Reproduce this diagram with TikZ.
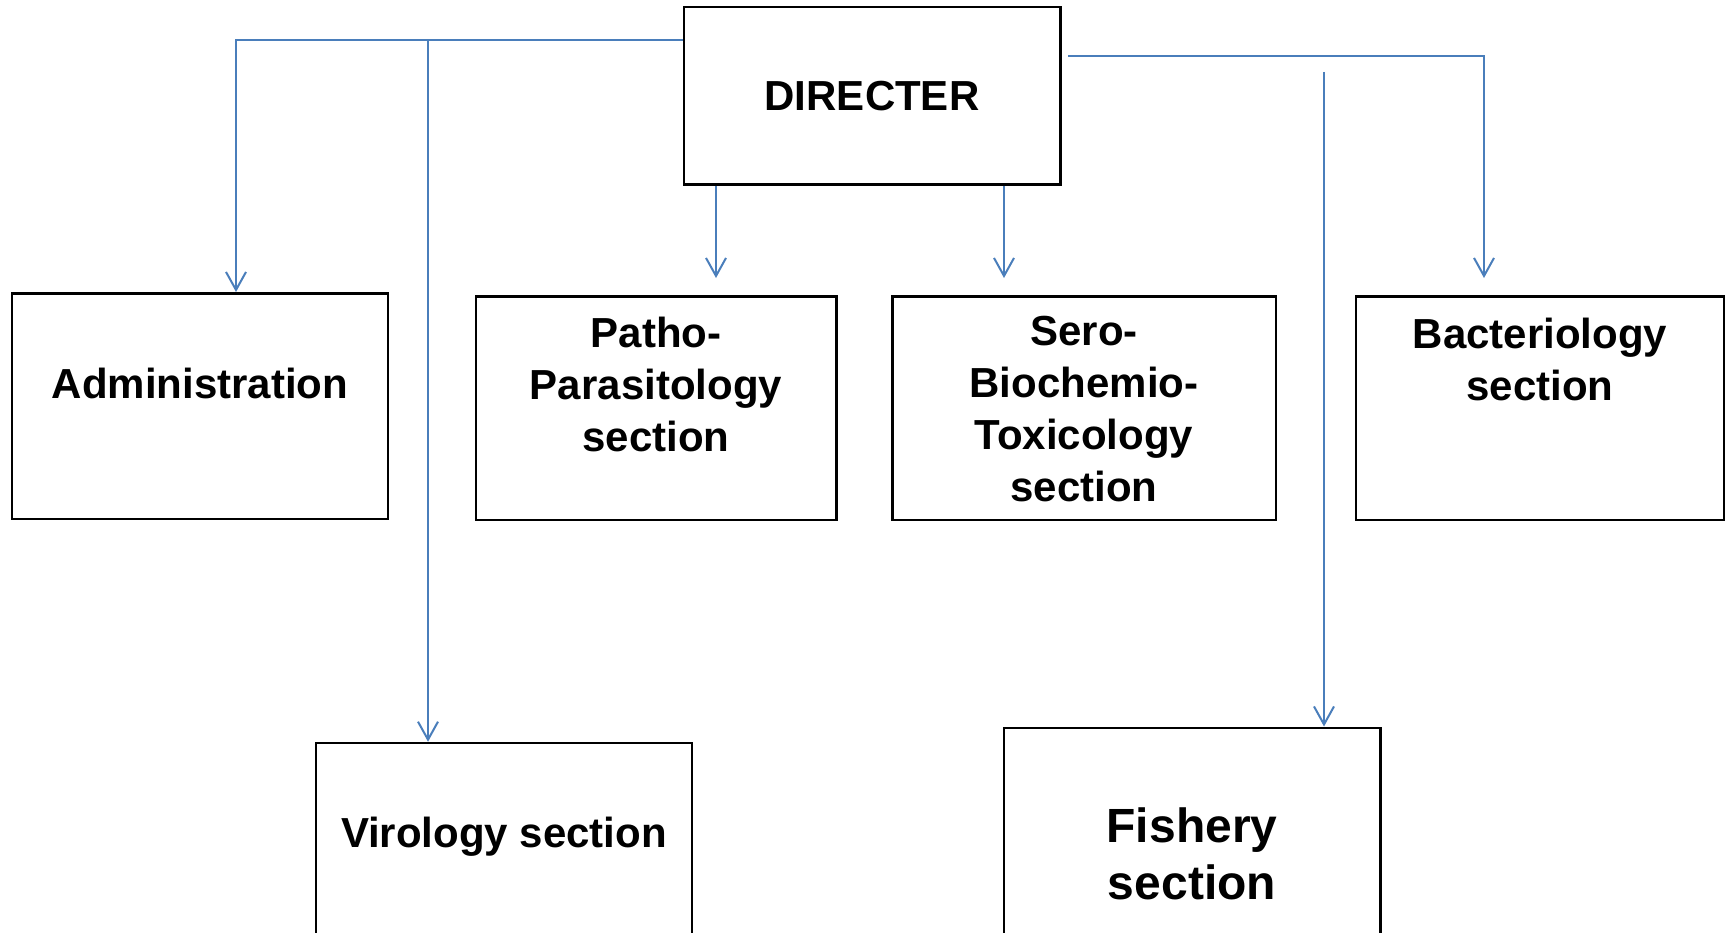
\documentclass[tikz,border=0pt]{standalone}
\usepackage{fontspec}
\setmainfont{Liberation Sans}
\usetikzlibrary{arrows.meta}
\definecolor{connblue}{RGB}{74,126,187}
\begin{document}
\begin{tikzpicture}[x=1pt,y=-1pt,
  box/.style={draw=black, line width=2.5pt, rectangle, inner sep=0pt},
  lbl/.style={font=\fontsize{42}{52}\selectfont\bfseries, align=center, inner sep=0pt},
  conn/.style={draw=connblue, line width=2pt},
  arr/.style={conn, -{Straight Barb[length=18pt,width=20pt]}}]
\clip (0,0) rectangle (1731,933);
\fill[white] (0,0) rectangle (1731,933);
% boxes
\node[box, minimum width=376.5pt, minimum height=177.5pt] (dir) at (872,96) {};
\node[box, minimum width=376pt, minimum height=225.5pt] (adm) at (200,406) {};
\node[box, minimum width=360.5pt, minimum height=223.5pt] (pat) at (656,408) {};
\node[box, minimum width=383.5pt, minimum height=223.5pt] (ser) at (1084,408) {};
\node[box, minimum width=368pt, minimum height=223.5pt] (bac) at (1540,408) {};
\node[box, minimum width=376pt, minimum height=257pt] (vir) at (504,871.5) {};
\node[box, minimum width=376.5pt, minimum height=272.5pt] (fis) at (1192,864) {};
% labels
\node[lbl, anchor=base] (tdir) at (872,111) {DIRECTER};
\node[lbl, anchor=base] (tadm) at (200,398) {Administration};
\node[lbl] (tpat) at (656,384) {Patho-\\Parasitology\\section};
\node[lbl] (tser) at (1084,409) {Sero-\\Biochemio-\\Toxicology\\section};
\node[lbl] (tbac) at (1540,359) {Bacteriology\\section};
\node[lbl, anchor=base] (tvir) at (504,847) {Virology section};
\node[lbl, font=\fontsize{48}{57}\selectfont\bfseries] (tfis) at (1192,854) {Fishery\\section};
% connectors
\coordinate (jl) at (236,40);
\coordinate (jv) at (428,40);
\coordinate (jr0) at (1068,56);
\coordinate (jr) at (1484,56);
\coordinate (tb) at (1484,278);
\coordinate (tp) at (716,278);
\coordinate (ts) at (1004,278);
\coordinate (fs) at (1324,72);
\draw[arr] (dir.west |- jl) -- (jl) -- (jl |- adm.north);
\draw[arr] (jv) -- (jv |- vir.north);
\draw[arr] (jr0) -- (jr) -- (tb);
\draw[arr] (dir.south -| tp) -- (tp);
\draw[arr] (dir.south -| ts) -- (ts);
\draw[arr] (fs) -- (fs |- fis.north);
\end{tikzpicture}
\end{document}
